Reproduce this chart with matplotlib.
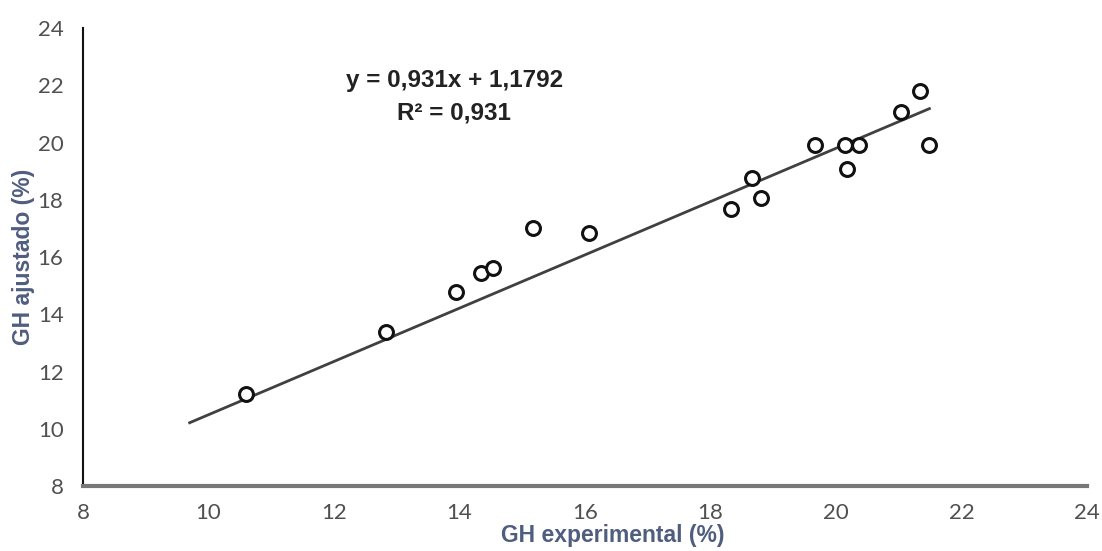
import numpy as np
import matplotlib
matplotlib.use("Agg")
import matplotlib.pyplot as plt

# GH experimental vs GH ajustado
gh_exp = [10.6, 12.83, 13.94, 14.34, 14.54, 15.18, 16.07, 18.32, 18.67, 18.81,
          19.67, 20.15, 20.18, 20.37, 21.03, 21.34, 21.49]
gh_adj = [11.2, 13.38, 14.78, 15.45, 15.62, 17.02, 16.85, 17.69, 18.77, 18.07,
          19.92, 19.92, 19.08, 19.92, 21.08, 21.81, 19.92]

# trend line from the equation shown on the chart
slope = 0.931
intercept = 1.1792
backcast = 0.9

ticks = [8, 10, 12, 14, 16, 18, 20, 22, 24]

fig = plt.figure(figsize=(11.02, 5.51), dpi=100)
ax = fig.add_axes([0.0753, 0.118, 0.911, 0.831])

tx = np.array([min(gh_exp) - backcast, max(gh_exp)])
ax.plot(tx, slope * tx + intercept, color='#404040', lw=2, zorder=2)
ax.plot(gh_exp, gh_adj, 'o', ms=10, mfc='white', mec='#111111', mew=2.2, zorder=3)

ax.set_xlim(8, 24)
ax.set_ylim(8, 24)
ax.set_xticks(ticks)
ax.set_yticks(ticks)
ax.tick_params(length=0, labelsize=16, labelcolor='#505050')
ax.tick_params(axis='x', pad=12)
ax.tick_params(axis='y', pad=14)
for lab in ax.get_xticklabels() + ax.get_yticklabels():
    lab.set_family('Lato')

for s in ['top', 'right']:
    ax.spines[s].set_visible(False)
ax.spines['left'].set_color('#111111')
ax.spines['left'].set_linewidth(1.5)
ax.spines['bottom'].set_color('#777777')
ax.spines['bottom'].set_linewidth(3)

lab_color = '#4f5d7e'
ax.set_xlabel('GH experimental (%)', fontsize=16.5, fontweight='bold',
              color=lab_color, family='Liberation Sans', va='center')
ax.xaxis.set_label_coords(0.528, -0.108)
ax.set_ylabel('GH ajustado (%)', fontsize=16.5, fontweight='bold',
              color=lab_color, family='Liberation Sans', va='center')
ax.yaxis.set_label_coords(-0.059, 0.5)

ax.text(0.37, 0.885, 'y = 0,931x + 1,1792', transform=ax.transAxes,
        ha='center', va='center', fontsize=17.5, fontweight='bold',
        color='#222222', family='Liberation Sans')
ax.text(0.37, 0.815, 'R² = 0,931', transform=ax.transAxes,
        ha='center', va='center', fontsize=17.5, fontweight='bold',
        color='#222222', family='Liberation Sans')

fig.savefig('out.png', dpi=100)
